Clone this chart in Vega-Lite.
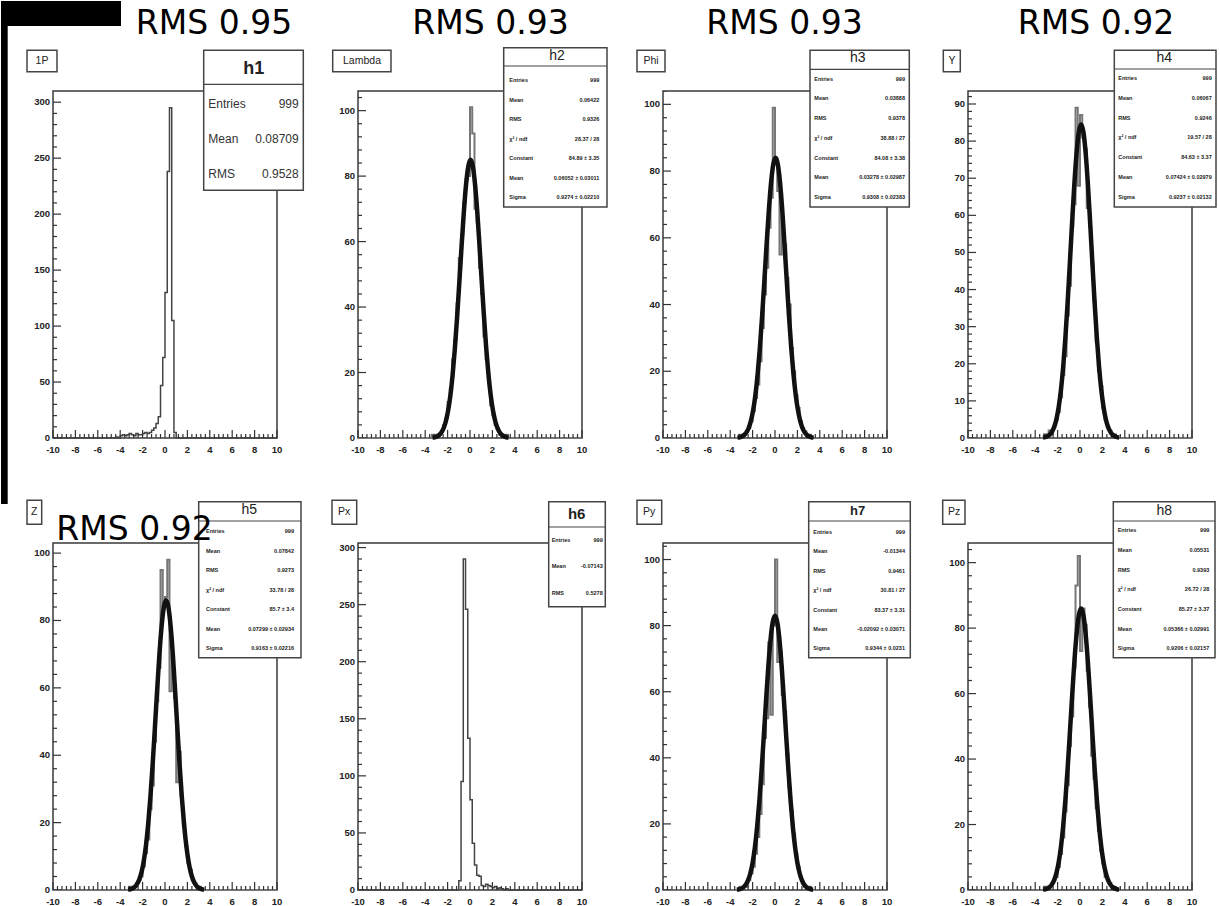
{
"$schema": "https://vega.github.io/schema/vega-lite/v6.json",
"background": "white",
"padding": 0,
"autosize": {"type": "pad"},
"config": {
  "font": "Liberation Sans",
  "view": {"stroke": "#3a3a3a", "strokeWidth": 1.5}
},
"datasets": {
  "xM": [{"v":-10,"l":"-10"},{"v":-8,"l":"-8"},{"v":-6,"l":"-6"},{"v":-4,"l":"-4"},{"v":-2,"l":"-2"},{"v":0,"l":"0"},{"v":2,"l":"2"},{"v":4,"l":"4"},{"v":6,"l":"6"},{"v":8,"l":"8"},{"v":10,"l":"10"}],
  "yM50": [{"v":0,"l":"0"},{"v":50,"l":"50"},{"v":100,"l":"100"},{"v":150,"l":"150"},{"v":200,"l":"200"},{"v":250,"l":"250"},{"v":300,"l":"300"}],
  "yM20": [{"v":0,"l":"0"},{"v":20,"l":"20"},{"v":40,"l":"40"},{"v":60,"l":"60"},{"v":80,"l":"80"},{"v":100,"l":"100"}],
  "yM10": [{"v":0,"l":"0"},{"v":10,"l":"10"},{"v":20,"l":"20"},{"v":30,"l":"30"},{"v":40,"l":"40"},{"v":50,"l":"50"},{"v":60,"l":"60"},{"v":70,"l":"70"},{"v":80,"l":"80"},{"v":90,"l":"90"}],
  "xm": [{"v":-9.6},{"v":-9.2},{"v":-8.8},{"v":-8.4},{"v":-7.6},{"v":-7.2},{"v":-6.8},{"v":-6.4},{"v":-5.6},{"v":-5.2},{"v":-4.8},{"v":-4.4},{"v":-3.6},{"v":-3.2},{"v":-2.8},{"v":-2.4},{"v":-1.6},{"v":-1.2},{"v":-0.8},{"v":-0.4},{"v":0.4},{"v":0.8},{"v":1.2},{"v":1.6},{"v":2.4},{"v":2.8},{"v":3.2},{"v":3.6},{"v":4.4},{"v":4.8},{"v":5.2},{"v":5.6},{"v":6.4},{"v":6.8},{"v":7.2},{"v":7.6},{"v":8.4},{"v":8.8},{"v":9.2},{"v":9.6}],
  "ym10": [{"v":10},{"v":20},{"v":30},{"v":40},{"v":60},{"v":70},{"v":80},{"v":90},{"v":110},{"v":120},{"v":130},{"v":140},{"v":160},{"v":170},{"v":180},{"v":190},{"v":210},{"v":220},{"v":230},{"v":240},{"v":260},{"v":270},{"v":280},{"v":290}],
  "ym4": [{"v":4},{"v":8},{"v":12},{"v":16},{"v":24},{"v":28},{"v":32},{"v":36},{"v":44},{"v":48},{"v":52},{"v":56},{"v":64},{"v":68},{"v":72},{"v":76},{"v":84},{"v":88},{"v":92},{"v":96},{"v":104}],
  "ym2": [{"v":2},{"v":4},{"v":6},{"v":8},{"v":12},{"v":14},{"v":16},{"v":18},{"v":22},{"v":24},{"v":26},{"v":28},{"v":32},{"v":34},{"v":36},{"v":38},{"v":42},{"v":44},{"v":46},{"v":48},{"v":52},{"v":54},{"v":56},{"v":58},{"v":62},{"v":64},{"v":66},{"v":68},{"v":72},{"v":74},{"v":76},{"v":78},{"v":82},{"v":84},{"v":86},{"v":88},{"v":92}],
  "h1": [{"x":-10,"n":0},{"x":-4.4,"n":1},{"x":-4.2,"n":0},{"x":-4,"n":2},{"x":-3.8,"n":3},{"x":-3.6,"n":2},{"x":-3.4,"n":3},{"x":-3.2,"n":4},{"x":-3,"n":3},{"x":-2.8,"n":2},{"x":-2.6,"n":4},{"x":-2.4,"n":3},{"x":-2.2,"n":3},{"x":-2,"n":4},{"x":-1.8,"n":5},{"x":-1.6,"n":4},{"x":-1.4,"n":5},{"x":-1.2,"n":7},{"x":-1,"n":9},{"x":-0.8,"n":13},{"x":-0.6,"n":19},{"x":-0.4,"n":47},{"x":-0.2,"n":72},{"x":0,"n":130},{"x":0.2,"n":238},{"x":0.4,"n":295},{"x":0.6,"n":105},{"x":0.8,"n":5},{"x":1,"n":0},{"x":10,"n":0}],
  "h2": [{"x":-10,"n":0},{"x":-3.4,"n":1},{"x":-3.2,"n":0},{"x":-3,"n":1},{"x":-2.8,"n":1},{"x":-2.6,"n":2},{"x":-2.4,"n":4},{"x":-2.2,"n":6},{"x":-2,"n":11},{"x":-1.8,"n":15},{"x":-1.6,"n":24},{"x":-1.4,"n":30},{"x":-1.2,"n":41},{"x":-1,"n":55},{"x":-0.8,"n":62},{"x":-0.6,"n":72},{"x":-0.4,"n":79},{"x":-0.2,"n":80},{"x":0,"n":101},{"x":0.2,"n":93},{"x":0.4,"n":70},{"x":0.6,"n":66},{"x":0.8,"n":52},{"x":1,"n":44},{"x":1.2,"n":31},{"x":1.4,"n":24},{"x":1.6,"n":17},{"x":1.8,"n":10},{"x":2,"n":7},{"x":2.2,"n":4},{"x":2.4,"n":3},{"x":2.6,"n":1},{"x":2.8,"n":1},{"x":3,"n":0},{"x":3.2,"n":1},{"x":3.4,"n":0},{"x":10,"n":0}],
  "h3": [{"x":-10,"n":0},{"x":-3.2,"n":1},{"x":-3,"n":1},{"x":-2.8,"n":1},{"x":-2.6,"n":2},{"x":-2.4,"n":3},{"x":-2.2,"n":5},{"x":-2,"n":8},{"x":-1.8,"n":12},{"x":-1.6,"n":16},{"x":-1.4,"n":23},{"x":-1.2,"n":33},{"x":-1,"n":43},{"x":-0.8,"n":51},{"x":-0.6,"n":63},{"x":-0.4,"n":72},{"x":-0.2,"n":99},{"x":0,"n":84},{"x":0.2,"n":74},{"x":0.4,"n":55},{"x":0.6,"n":66},{"x":0.8,"n":58},{"x":1,"n":48},{"x":1.2,"n":40},{"x":1.4,"n":27},{"x":1.6,"n":20},{"x":1.8,"n":13},{"x":2,"n":9},{"x":2.2,"n":5},{"x":2.4,"n":3},{"x":2.6,"n":2},{"x":2.8,"n":1},{"x":3,"n":1},{"x":3.2,"n":0},{"x":10,"n":0}],
  "h4": [{"x":-10,"n":0},{"x":-3.2,"n":1},{"x":-3,"n":0},{"x":-2.8,"n":2},{"x":-2.6,"n":1},{"x":-2.4,"n":3},{"x":-2.2,"n":5},{"x":-2,"n":7},{"x":-1.8,"n":11},{"x":-1.6,"n":17},{"x":-1.4,"n":22},{"x":-1.2,"n":33},{"x":-1,"n":41},{"x":-0.8,"n":57},{"x":-0.6,"n":63},{"x":-0.4,"n":89},{"x":-0.2,"n":68},{"x":0,"n":87},{"x":0.2,"n":81},{"x":0.4,"n":78},{"x":0.6,"n":62},{"x":0.8,"n":57},{"x":1,"n":47},{"x":1.2,"n":37},{"x":1.4,"n":26},{"x":1.6,"n":18},{"x":1.8,"n":14},{"x":2,"n":8},{"x":2.2,"n":5},{"x":2.4,"n":3},{"x":2.6,"n":2},{"x":2.8,"n":1},{"x":3,"n":1},{"x":3.2,"n":0},{"x":10,"n":0}],
  "h5": [{"x":-10,"n":0},{"x":-3.2,"n":1},{"x":-3,"n":1},{"x":-2.8,"n":1},{"x":-2.6,"n":2},{"x":-2.4,"n":3},{"x":-2.2,"n":4},{"x":-2,"n":7},{"x":-1.8,"n":11},{"x":-1.6,"n":15},{"x":-1.4,"n":24},{"x":-1.2,"n":31},{"x":-1,"n":44},{"x":-0.8,"n":56},{"x":-0.6,"n":66},{"x":-0.4,"n":95},{"x":-0.2,"n":84},{"x":0,"n":87},{"x":0.2,"n":98},{"x":0.4,"n":59},{"x":0.6,"n":70},{"x":0.8,"n":57},{"x":1,"n":32},{"x":1.2,"n":41},{"x":1.4,"n":28},{"x":1.6,"n":19},{"x":1.8,"n":13},{"x":2,"n":8},{"x":2.2,"n":6},{"x":2.4,"n":3},{"x":2.6,"n":2},{"x":2.8,"n":1},{"x":3,"n":1},{"x":3.2,"n":0},{"x":10,"n":0}],
  "h6": [{"x":-10,"n":0},{"x":-1,"n":8},{"x":-0.8,"n":95},{"x":-0.6,"n":290},{"x":-0.4,"n":246},{"x":-0.2,"n":133},{"x":0,"n":79},{"x":0.2,"n":41},{"x":0.4,"n":22},{"x":0.6,"n":13},{"x":0.8,"n":12},{"x":1,"n":4},{"x":1.2,"n":3},{"x":1.4,"n":5},{"x":1.6,"n":4},{"x":1.8,"n":3},{"x":2,"n":2},{"x":2.2,"n":3},{"x":2.4,"n":1},{"x":2.6,"n":2},{"x":2.8,"n":1},{"x":3,"n":0},{"x":3.2,"n":1},{"x":3.4,"n":0},{"x":10,"n":0}],
  "h7": [{"x":-10,"n":0},{"x":-3,"n":1},{"x":-2.8,"n":1},{"x":-2.6,"n":1},{"x":-2.4,"n":3},{"x":-2.2,"n":5},{"x":-2,"n":7},{"x":-1.8,"n":11},{"x":-1.6,"n":16},{"x":-1.4,"n":23},{"x":-1.2,"n":32},{"x":-1,"n":46},{"x":-0.8,"n":52},{"x":-0.6,"n":75},{"x":-0.4,"n":53},{"x":-0.2,"n":80},{"x":0,"n":100},{"x":0.2,"n":69},{"x":0.4,"n":72},{"x":0.6,"n":59},{"x":0.8,"n":54},{"x":1,"n":41},{"x":1.2,"n":31},{"x":1.4,"n":24},{"x":1.6,"n":17},{"x":1.8,"n":11},{"x":2,"n":7},{"x":2.2,"n":4},{"x":2.4,"n":2},{"x":2.6,"n":1},{"x":2.8,"n":1},{"x":3,"n":1},{"x":3.2,"n":0},{"x":10,"n":0}],
  "h8": [{"x":-10,"n":0},{"x":-3.2,"n":1},{"x":-3,"n":1},{"x":-2.8,"n":1},{"x":-2.6,"n":2},{"x":-2.4,"n":3},{"x":-2.2,"n":4},{"x":-2,"n":7},{"x":-1.8,"n":11},{"x":-1.6,"n":16},{"x":-1.4,"n":24},{"x":-1.2,"n":32},{"x":-1,"n":44},{"x":-0.8,"n":53},{"x":-0.6,"n":68},{"x":-0.4,"n":93},{"x":-0.2,"n":102},{"x":0,"n":73},{"x":0.2,"n":86},{"x":0.4,"n":81},{"x":0.6,"n":67},{"x":0.8,"n":56},{"x":1,"n":41},{"x":1.2,"n":34},{"x":1.4,"n":25},{"x":1.6,"n":18},{"x":1.8,"n":12},{"x":2,"n":8},{"x":2.2,"n":4},{"x":2.4,"n":3},{"x":2.6,"n":2},{"x":2.8,"n":1},{"x":3,"n":1},{"x":3.2,"n":0},{"x":10,"n":0}],
  "f2": [{"x":-3.35,"y":0.11},{"x":-3.15,"y":0.23},{"x":-2.95,"y":0.47},{"x":-2.75,"y":0.91},{"x":-2.55,"y":1.71},{"x":-2.35,"y":3.04},{"x":-2.15,"y":5.18},{"x":-1.95,"y":8.42},{"x":-1.75,"y":13.06},{"x":-1.55,"y":19.35},{"x":-1.35,"y":27.37},{"x":-1.15,"y":36.97},{"x":-0.95,"y":47.68},{"x":-0.75,"y":58.71},{"x":-0.55,"y":69.03},{"x":-0.35,"y":77.49},{"x":-0.15,"y":83.06},{"x":0.05,"y":85},{"x":0.25,"y":83.06},{"x":0.45,"y":77.49},{"x":0.65,"y":69.03},{"x":0.85,"y":58.71},{"x":1.05,"y":47.68},{"x":1.25,"y":36.97},{"x":1.45,"y":27.37},{"x":1.65,"y":19.35},{"x":1.85,"y":13.06},{"x":2.05,"y":8.42},{"x":2.25,"y":5.18},{"x":2.45,"y":3.04},{"x":2.65,"y":1.71},{"x":2.85,"y":0.91},{"x":3.05,"y":0.47},{"x":3.25,"y":0.23},{"x":3.45,"y":0.11}],
  "f3": [{"x":-3.35,"y":0.11},{"x":-3.15,"y":0.23},{"x":-2.95,"y":0.46},{"x":-2.75,"y":0.9},{"x":-2.55,"y":1.69},{"x":-2.35,"y":3.01},{"x":-2.15,"y":5.12},{"x":-1.95,"y":8.32},{"x":-1.75,"y":12.91},{"x":-1.55,"y":19.12},{"x":-1.35,"y":27.05},{"x":-1.15,"y":36.54},{"x":-0.95,"y":47.12},{"x":-0.75,"y":58.02},{"x":-0.55,"y":68.22},{"x":-0.35,"y":76.58},{"x":-0.15,"y":82.08},{"x":0.05,"y":84},{"x":0.25,"y":82.08},{"x":0.45,"y":76.58},{"x":0.65,"y":68.22},{"x":0.85,"y":58.02},{"x":1.05,"y":47.12},{"x":1.25,"y":36.54},{"x":1.45,"y":27.05},{"x":1.65,"y":19.12},{"x":1.85,"y":12.91},{"x":2.05,"y":8.32},{"x":2.25,"y":5.12},{"x":2.45,"y":3.01},{"x":2.65,"y":1.69},{"x":2.85,"y":0.9},{"x":3.05,"y":0.46},{"x":3.25,"y":0.23},{"x":3.45,"y":0.11}],
  "f4": [{"x":-3.3,"y":0.11},{"x":-3.1,"y":0.23},{"x":-2.9,"y":0.46},{"x":-2.7,"y":0.91},{"x":-2.5,"y":1.7},{"x":-2.3,"y":3.03},{"x":-2.1,"y":5.15},{"x":-1.9,"y":8.37},{"x":-1.7,"y":12.99},{"x":-1.5,"y":19.24},{"x":-1.3,"y":27.21},{"x":-1.1,"y":36.76},{"x":-0.9,"y":47.4},{"x":-0.7,"y":58.37},{"x":-0.5,"y":68.62},{"x":-0.3,"y":77.03},{"x":-0.1,"y":82.57},{"x":0.1,"y":84.5},{"x":0.3,"y":82.57},{"x":0.5,"y":77.03},{"x":0.7,"y":68.62},{"x":0.9,"y":58.37},{"x":1.1,"y":47.4},{"x":1.3,"y":36.76},{"x":1.5,"y":27.21},{"x":1.7,"y":19.24},{"x":1.9,"y":12.99},{"x":2.1,"y":8.37},{"x":2.3,"y":5.15},{"x":2.5,"y":3.03},{"x":2.7,"y":1.7},{"x":2.9,"y":0.91},{"x":3.1,"y":0.46},{"x":3.3,"y":0.23},{"x":3.5,"y":0.11}],
  "f5": [{"x":-3.3,"y":0.11},{"x":-3.1,"y":0.23},{"x":-2.9,"y":0.47},{"x":-2.7,"y":0.92},{"x":-2.5,"y":1.73},{"x":-2.3,"y":3.08},{"x":-2.1,"y":5.24},{"x":-1.9,"y":8.52},{"x":-1.7,"y":13.22},{"x":-1.5,"y":19.58},{"x":-1.3,"y":27.7},{"x":-1.1,"y":37.41},{"x":-0.9,"y":48.24},{"x":-0.7,"y":59.4},{"x":-0.5,"y":69.84},{"x":-0.3,"y":78.4},{"x":-0.1,"y":84.03},{"x":0.1,"y":86},{"x":0.3,"y":84.03},{"x":0.5,"y":78.4},{"x":0.7,"y":69.84},{"x":0.9,"y":59.4},{"x":1.1,"y":48.24},{"x":1.3,"y":37.41},{"x":1.5,"y":27.7},{"x":1.7,"y":19.58},{"x":1.9,"y":13.22},{"x":2.1,"y":8.52},{"x":2.3,"y":5.24},{"x":2.5,"y":3.08},{"x":2.7,"y":1.73},{"x":2.9,"y":0.92},{"x":3.1,"y":0.47},{"x":3.3,"y":0.23},{"x":3.5,"y":0.11}],
  "f7": [{"x":-3.4,"y":0.1},{"x":-3.2,"y":0.22},{"x":-3,"y":0.46},{"x":-2.8,"y":0.89},{"x":-2.6,"y":1.67},{"x":-2.4,"y":2.97},{"x":-2.2,"y":5.06},{"x":-2,"y":8.22},{"x":-1.8,"y":12.76},{"x":-1.6,"y":18.89},{"x":-1.4,"y":26.73},{"x":-1.2,"y":36.1},{"x":-1,"y":46.56},{"x":-0.8,"y":57.33},{"x":-0.6,"y":67.41},{"x":-0.4,"y":75.67},{"x":-0.2,"y":81.1},{"x":0,"y":83},{"x":0.2,"y":81.1},{"x":0.4,"y":75.67},{"x":0.6,"y":67.41},{"x":0.8,"y":57.33},{"x":1,"y":46.56},{"x":1.2,"y":36.1},{"x":1.4,"y":26.73},{"x":1.6,"y":18.89},{"x":1.8,"y":12.76},{"x":2,"y":8.22},{"x":2.2,"y":5.06},{"x":2.4,"y":2.97},{"x":2.6,"y":1.67},{"x":2.8,"y":0.89},{"x":3,"y":0.46},{"x":3.2,"y":0.22},{"x":3.4,"y":0.1}]
},
"columns": 4,
"spacing": {"row": 105, "column": 81},
"bounds": "flush",
"concat": [
 {"width": 224, "height": 347, "layer": [
  {"data": {"name": "h1"}, "mark": {"type": "line", "interpolate": "step-after", "color": "#444", "strokeWidth": 1.5},
   "encoding": {"x": {"field": "x", "type": "quantitative", "scale": {"domain": [-10, 10], "nice": false, "zero": false}, "axis": null},
                "y": {"field": "n", "type": "quantitative", "scale": {"domain": [0, 310], "nice": false}, "axis": null}}},
  {"data": {"name": "xM"}, "mark": {"type": "rule", "y2Offset": -8, "color": "#333", "strokeWidth": 1.2},
   "encoding": {"x": {"field": "v", "type": "quantitative", "scale": {"domain": [-10, 10], "nice": false, "zero": false}, "axis": null}, "y": {"datum": 0, "type": "quantitative", "scale": {"domain": [0, 310], "nice": false}, "axis": null}, "y2": {"datum": 0}}},
  {"data": {"name": "xM"}, "mark": {"type": "text", "fontSize": 9.5, "fontWeight": "bold", "color": "#222", "baseline": "top", "dy": 7},
   "encoding": {"x": {"field": "v", "type": "quantitative", "scale": {"domain": [-10, 10], "nice": false, "zero": false}, "axis": null}, "y": {"datum": 0, "type": "quantitative", "scale": {"domain": [0, 310], "nice": false}, "axis": null}, "text": {"field": "l"}}},
  {"data": {"name": "xm"}, "mark": {"type": "rule", "y2Offset": -4, "color": "#333", "strokeWidth": 1.2},
   "encoding": {"x": {"field": "v", "type": "quantitative", "scale": {"domain": [-10, 10], "nice": false, "zero": false}, "axis": null}, "y": {"datum": 0, "type": "quantitative", "scale": {"domain": [0, 310], "nice": false}, "axis": null}, "y2": {"datum": 0}}},
  {"data": {"name": "yM50"}, "mark": {"type": "rule", "x2Offset": 8, "color": "#333", "strokeWidth": 1.2, "clip": true},
   "encoding": {"y": {"field": "v", "type": "quantitative", "scale": {"domain": [0, 310], "nice": false}, "axis": null}, "x": {"datum": -10, "type": "quantitative", "scale": {"domain": [-10, 10], "nice": false, "zero": false}, "axis": null}, "x2": {"datum": -10}}},
  {"data": {"name": "yM50"}, "mark": {"type": "text", "fontSize": 9.5, "fontWeight": "bold", "color": "#222", "align": "right", "baseline": "middle", "dx": -3},
   "encoding": {"y": {"field": "v", "type": "quantitative", "scale": {"domain": [0, 310], "nice": false}, "axis": null}, "x": {"datum": -10, "type": "quantitative", "scale": {"domain": [-10, 10], "nice": false, "zero": false}, "axis": null}, "text": {"field": "l"}}},
  {"data": {"name": "ym10"}, "mark": {"type": "rule", "x2Offset": 4, "color": "#333", "strokeWidth": 1.2, "clip": true},
   "encoding": {"y": {"field": "v", "type": "quantitative", "scale": {"domain": [0, 310], "nice": false}, "axis": null}, "x": {"datum": -10, "type": "quantitative", "scale": {"domain": [-10, 10], "nice": false, "zero": false}, "axis": null}, "x2": {"datum": -10}}},
  {"data": {"values": [{}]}, "mark": {"type": "rect", "fill": "black"},
   "encoding": {"x": {"datum": -14.643, "type": "quantitative", "scale": {"domain": [-10, 10], "nice": false, "zero": false}, "axis": null}, "x2": {"datum": -3.929}, "y": {"datum": 390.4, "type": "quantitative", "scale": {"domain": [0, 310], "nice": false}, "axis": null}, "y2": {"datum": 368.1}}},
  {"data": {"values": [{}]}, "mark": {"type": "rect", "fill": "black"},
   "encoding": {"x": {"datum": -14.643, "type": "quantitative", "scale": {"domain": [-10, 10], "nice": false, "zero": false}, "axis": null}, "x2": {"datum": -14.045}, "y": {"datum": 390.4, "type": "quantitative", "scale": {"domain": [0, 310], "nice": false}, "axis": null}, "y2": {"datum": -58.96}}},
  {"data": {"values": [{}]}, "mark": {"type": "rect", "fill": "white", "stroke": "#444", "strokeWidth": 1.5},
   "encoding": {"x": {"datum": -12.321, "type": "quantitative", "scale": {"domain": [-10, 10], "nice": false, "zero": false}, "axis": null}, "x2": {"datum": -9.643}, "y": {"datum": 346.4, "type": "quantitative", "scale": {"domain": [0, 310], "nice": false}, "axis": null}, "y2": {"datum": 327.3}}},
  {"data": {"values": [{"t": "1P"}]}, "mark": {"type": "text", "fontSize": 10.5, "color": "#222", "baseline": "middle"},
   "encoding": {"x": {"datum": -10.982, "type": "quantitative", "scale": {"domain": [-10, 10], "nice": false, "zero": false}, "axis": null}, "y": {"datum": 336.8, "type": "quantitative", "scale": {"domain": [0, 310], "nice": false}, "axis": null}, "text": {"field": "t"}}},
  {"data": {"values": [{}]}, "mark": {"type": "rect", "fill": "white", "stroke": "#444", "strokeWidth": 1.5},
   "encoding": {"x": {"datum": 3.455, "type": "quantitative", "scale": {"domain": [-10, 10], "nice": false, "zero": false}, "axis": null}, "x2": {"datum": 12.348}, "y": {"datum": 346.4, "type": "quantitative", "scale": {"domain": [0, 310], "nice": false}, "axis": null}, "y2": {"datum": 221.3}}},
  {"data": {"values": [{}]}, "mark": {"type": "rule", "color": "#444", "strokeWidth": 1.2},
   "encoding": {"x": {"datum": 3.455, "type": "quantitative", "scale": {"domain": [-10, 10], "nice": false, "zero": false}, "axis": null}, "x2": {"datum": 12.348}, "y": {"datum": 316.0, "type": "quantitative", "scale": {"domain": [0, 310], "nice": false}, "axis": null}}},
  {"data": {"values": [{"t": "h1"}]}, "mark": {"type": "text", "fontSize": 18, "fontWeight": "bold", "color": "#222", "baseline": "middle"},
   "encoding": {"x": {"datum": 7.92, "type": "quantitative", "scale": {"domain": [-10, 10], "nice": false, "zero": false}, "axis": null}, "y": {"datum": 329.4, "type": "quantitative", "scale": {"domain": [0, 310], "nice": false}, "axis": null}, "text": {"field": "t"}}},
  {"data": {"values": [{"t": "Entries\nMean\nRMS"}]}, "mark": {"type": "text", "fontSize": 12, "color": "#333", "align": "left", "baseline": "alphabetic", "lineBreak": "\n", "lineHeight": 35},
   "encoding": {"x": {"datum": 3.866, "type": "quantitative", "scale": {"domain": [-10, 10], "nice": false, "zero": false}, "axis": null}, "y": {"datum": 294.9, "type": "quantitative", "scale": {"domain": [0, 310], "nice": false}, "axis": null}, "text": {"field": "t"}}},
  {"data": {"values": [{"t": "999\n0.08709\n0.9528"}]}, "mark": {"type": "text", "fontSize": 12, "color": "#333", "align": "right", "baseline": "alphabetic", "lineBreak": "\n", "lineHeight": 35},
   "encoding": {"x": {"datum": 11.938, "type": "quantitative", "scale": {"domain": [-10, 10], "nice": false, "zero": false}, "axis": null}, "y": {"datum": 294.9, "type": "quantitative", "scale": {"domain": [0, 310], "nice": false}, "axis": null}, "text": {"field": "t"}}},
  {"data": {"values": [{"t": "RMS 0.95"}]}, "mark": {"type": "text", "font": "DejaVu Sans", "fontSize": 33, "color": "black", "align": "center", "baseline": "alphabetic"},
   "encoding": {"x": {"datum": 4.375, "type": "quantitative", "scale": {"domain": [-10, 10], "nice": false, "zero": false}, "axis": null}, "y": {"datum": 360.7, "type": "quantitative", "scale": {"domain": [0, 310], "nice": false}, "axis": null}, "text": {"field": "t"}}}
 ]},
 {"width": 224, "height": 347, "layer": [
  {"data": {"name": "h2"}, "mark": {"type": "line", "interpolate": "step-after", "color": "#777", "strokeWidth": 2},
   "encoding": {"x": {"field": "x", "type": "quantitative", "scale": {"domain": [-10, 10], "nice": false, "zero": false}, "axis": null},
                "y": {"field": "n", "type": "quantitative", "scale": {"domain": [0, 106], "nice": false}, "axis": null}}},
  {"data": {"name": "xM"}, "mark": {"type": "rule", "y2Offset": -8, "color": "#333", "strokeWidth": 1.2},
   "encoding": {"x": {"field": "v", "type": "quantitative", "scale": {"domain": [-10, 10], "nice": false, "zero": false}, "axis": null}, "y": {"datum": 0, "type": "quantitative", "scale": {"domain": [0, 106], "nice": false}, "axis": null}, "y2": {"datum": 0}}},
  {"data": {"name": "xM"}, "mark": {"type": "text", "fontSize": 9.5, "fontWeight": "bold", "color": "#222", "baseline": "top", "dy": 7},
   "encoding": {"x": {"field": "v", "type": "quantitative", "scale": {"domain": [-10, 10], "nice": false, "zero": false}, "axis": null}, "y": {"datum": 0, "type": "quantitative", "scale": {"domain": [0, 106], "nice": false}, "axis": null}, "text": {"field": "l"}}},
  {"data": {"name": "xm"}, "mark": {"type": "rule", "y2Offset": -4, "color": "#333", "strokeWidth": 1.2},
   "encoding": {"x": {"field": "v", "type": "quantitative", "scale": {"domain": [-10, 10], "nice": false, "zero": false}, "axis": null}, "y": {"datum": 0, "type": "quantitative", "scale": {"domain": [0, 106], "nice": false}, "axis": null}, "y2": {"datum": 0}}},
  {"data": {"name": "yM20"}, "mark": {"type": "rule", "x2Offset": 8, "color": "#333", "strokeWidth": 1.2, "clip": true},
   "encoding": {"y": {"field": "v", "type": "quantitative", "scale": {"domain": [0, 106], "nice": false}, "axis": null}, "x": {"datum": -10, "type": "quantitative", "scale": {"domain": [-10, 10], "nice": false, "zero": false}, "axis": null}, "x2": {"datum": -10}}},
  {"data": {"name": "yM20"}, "mark": {"type": "text", "fontSize": 9.5, "fontWeight": "bold", "color": "#222", "align": "right", "baseline": "middle", "dx": -3},
   "encoding": {"y": {"field": "v", "type": "quantitative", "scale": {"domain": [0, 106], "nice": false}, "axis": null}, "x": {"datum": -10, "type": "quantitative", "scale": {"domain": [-10, 10], "nice": false, "zero": false}, "axis": null}, "text": {"field": "l"}}},
  {"data": {"name": "ym4"}, "mark": {"type": "rule", "x2Offset": 4, "color": "#333", "strokeWidth": 1.2, "clip": true},
   "encoding": {"y": {"field": "v", "type": "quantitative", "scale": {"domain": [0, 106], "nice": false}, "axis": null}, "x": {"datum": -10, "type": "quantitative", "scale": {"domain": [-10, 10], "nice": false, "zero": false}, "axis": null}, "x2": {"datum": -10}}},
  {"data": {"name": "f2"}, "mark": {"type": "line", "interpolate": "monotone", "color": "#111", "strokeWidth": 4.5},
   "encoding": {"x": {"field": "x", "type": "quantitative", "scale": {"domain": [-10, 10], "nice": false, "zero": false}, "axis": null}, "y": {"field": "y", "type": "quantitative", "scale": {"domain": [0, 106], "nice": false}, "axis": null}}},
  {"data": {"values": [{}]}, "mark": {"type": "rect", "fill": "white", "stroke": "#444", "strokeWidth": 1.5},
   "encoding": {"x": {"datum": -12.259, "type": "quantitative", "scale": {"domain": [-10, 10], "nice": false, "zero": false}, "axis": null}, "x2": {"datum": -7.054}, "y": {"datum": 118.43, "type": "quantitative", "scale": {"domain": [0, 106], "nice": false}, "axis": null}, "y2": {"datum": 111.9}}},
  {"data": {"values": [{"t": "Lambda"}]}, "mark": {"type": "text", "fontSize": 10.5, "color": "#222", "baseline": "middle"},
   "encoding": {"x": {"datum": -9.643, "type": "quantitative", "scale": {"domain": [-10, 10], "nice": false, "zero": false}, "axis": null}, "y": {"datum": 115.17, "type": "quantitative", "scale": {"domain": [0, 106], "nice": false}, "axis": null}, "text": {"field": "t"}}},
  {"data": {"values": [{}]}, "mark": {"type": "rect", "fill": "white", "stroke": "#444", "strokeWidth": 1.5},
   "encoding": {"x": {"datum": 3.009, "type": "quantitative", "scale": {"domain": [-10, 10], "nice": false, "zero": false}, "axis": null}, "x2": {"datum": 12.232}, "y": {"datum": 119.23, "type": "quantitative", "scale": {"domain": [0, 106], "nice": false}, "axis": null}, "y2": {"datum": 70.57}}},
  {"data": {"values": [{}]}, "mark": {"type": "rule", "color": "#444", "strokeWidth": 1.2},
   "encoding": {"x": {"datum": 3.009, "type": "quantitative", "scale": {"domain": [-10, 10], "nice": false, "zero": false}, "axis": null}, "x2": {"datum": 12.232}, "y": {"datum": 113.64, "type": "quantitative", "scale": {"domain": [0, 106], "nice": false}, "axis": null}}},
  {"data": {"values": [{"t": "h2"}]}, "mark": {"type": "text", "fontSize": 14, "color": "#222", "baseline": "middle"},
   "encoding": {"x": {"datum": 7.768, "type": "quantitative", "scale": {"domain": [-10, 10], "nice": false, "zero": false}, "axis": null}, "y": {"datum": 116.69, "type": "quantitative", "scale": {"domain": [0, 106], "nice": false}, "axis": null}, "text": {"field": "t"}}},
  {"data": {"values": [{"t": "Entries\nMean\nRMS\nχ² / ndf\nConstant\nMean\nSigma"}]}, "mark": {"type": "text", "fontSize": 5.5, "fontWeight": "bold", "color": "#222", "align": "left", "baseline": "alphabetic", "lineBreak": "\n", "lineHeight": 19.45},
   "encoding": {"x": {"datum": 3.509, "type": "quantitative", "scale": {"domain": [-10, 10], "nice": false, "zero": false}, "axis": null}, "y": {"datum": 108.66, "type": "quantitative", "scale": {"domain": [0, 106], "nice": false}, "axis": null}, "text": {"field": "t"}}},
  {"data": {"values": [{"t": "999\n0.06422\n0.9326\n28.37 / 28\n84.89 ± 3.35\n0.06052 ± 0.03011\n0.9274 ± 0.02210"}]}, "mark": {"type": "text", "fontSize": 5.5, "fontWeight": "bold", "color": "#222", "align": "right", "baseline": "alphabetic", "lineBreak": "\n", "lineHeight": 19.45},
   "encoding": {"x": {"datum": 11.545, "type": "quantitative", "scale": {"domain": [-10, 10], "nice": false, "zero": false}, "axis": null}, "y": {"datum": 108.66, "type": "quantitative", "scale": {"domain": [0, 106], "nice": false}, "axis": null}, "text": {"field": "t"}}},
  {"data": {"values": [{"t": "RMS 0.93"}]}, "mark": {"type": "text", "font": "DejaVu Sans", "fontSize": 33, "color": "black", "align": "center", "baseline": "alphabetic"},
   "encoding": {"x": {"datum": 1.83, "type": "quantitative", "scale": {"domain": [-10, 10], "nice": false, "zero": false}, "axis": null}, "y": {"datum": 123.32, "type": "quantitative", "scale": {"domain": [0, 106], "nice": false}, "axis": null}, "text": {"field": "t"}}}
 ]},
 {"width": 224, "height": 347, "layer": [
  {"data": {"name": "h3"}, "mark": {"type": "line", "interpolate": "step-after", "color": "#777", "strokeWidth": 2},
   "encoding": {"x": {"field": "x", "type": "quantitative", "scale": {"domain": [-10, 10], "nice": false, "zero": false}, "axis": null},
                "y": {"field": "n", "type": "quantitative", "scale": {"domain": [0, 104], "nice": false}, "axis": null}}},
  {"data": {"name": "xM"}, "mark": {"type": "rule", "y2Offset": -8, "color": "#333", "strokeWidth": 1.2},
   "encoding": {"x": {"field": "v", "type": "quantitative", "scale": {"domain": [-10, 10], "nice": false, "zero": false}, "axis": null}, "y": {"datum": 0, "type": "quantitative", "scale": {"domain": [0, 104], "nice": false}, "axis": null}, "y2": {"datum": 0}}},
  {"data": {"name": "xM"}, "mark": {"type": "text", "fontSize": 9.5, "fontWeight": "bold", "color": "#222", "baseline": "top", "dy": 7},
   "encoding": {"x": {"field": "v", "type": "quantitative", "scale": {"domain": [-10, 10], "nice": false, "zero": false}, "axis": null}, "y": {"datum": 0, "type": "quantitative", "scale": {"domain": [0, 104], "nice": false}, "axis": null}, "text": {"field": "l"}}},
  {"data": {"name": "xm"}, "mark": {"type": "rule", "y2Offset": -4, "color": "#333", "strokeWidth": 1.2},
   "encoding": {"x": {"field": "v", "type": "quantitative", "scale": {"domain": [-10, 10], "nice": false, "zero": false}, "axis": null}, "y": {"datum": 0, "type": "quantitative", "scale": {"domain": [0, 104], "nice": false}, "axis": null}, "y2": {"datum": 0}}},
  {"data": {"name": "yM20"}, "mark": {"type": "rule", "x2Offset": 8, "color": "#333", "strokeWidth": 1.2, "clip": true},
   "encoding": {"y": {"field": "v", "type": "quantitative", "scale": {"domain": [0, 104], "nice": false}, "axis": null}, "x": {"datum": -10, "type": "quantitative", "scale": {"domain": [-10, 10], "nice": false, "zero": false}, "axis": null}, "x2": {"datum": -10}}},
  {"data": {"name": "yM20"}, "mark": {"type": "text", "fontSize": 9.5, "fontWeight": "bold", "color": "#222", "align": "right", "baseline": "middle", "dx": -3},
   "encoding": {"y": {"field": "v", "type": "quantitative", "scale": {"domain": [0, 104], "nice": false}, "axis": null}, "x": {"datum": -10, "type": "quantitative", "scale": {"domain": [-10, 10], "nice": false, "zero": false}, "axis": null}, "text": {"field": "l"}}},
  {"data": {"name": "ym4"}, "mark": {"type": "rule", "x2Offset": 4, "color": "#333", "strokeWidth": 1.2, "clip": true},
   "encoding": {"y": {"field": "v", "type": "quantitative", "scale": {"domain": [0, 104], "nice": false}, "axis": null}, "x": {"datum": -10, "type": "quantitative", "scale": {"domain": [-10, 10], "nice": false, "zero": false}, "axis": null}, "x2": {"datum": -10}}},
  {"data": {"name": "f3"}, "mark": {"type": "line", "interpolate": "monotone", "color": "#111", "strokeWidth": 4.5},
   "encoding": {"x": {"field": "x", "type": "quantitative", "scale": {"domain": [-10, 10], "nice": false, "zero": false}, "axis": null}, "y": {"field": "y", "type": "quantitative", "scale": {"domain": [0, 104], "nice": false}, "axis": null}}},
  {"data": {"values": [{}]}, "mark": {"type": "rect", "fill": "white", "stroke": "#444", "strokeWidth": 1.5},
   "encoding": {"x": {"datum": -12.321, "type": "quantitative", "scale": {"domain": [-10, 10], "nice": false, "zero": false}, "axis": null}, "x2": {"datum": -9.821}, "y": {"datum": 116.2, "type": "quantitative", "scale": {"domain": [0, 104], "nice": false}, "axis": null}, "y2": {"datum": 109.79}}},
  {"data": {"values": [{"t": "Phi"}]}, "mark": {"type": "text", "fontSize": 10.5, "color": "#222", "baseline": "middle"},
   "encoding": {"x": {"datum": -11.071, "type": "quantitative", "scale": {"domain": [-10, 10], "nice": false, "zero": false}, "axis": null}, "y": {"datum": 112.99, "type": "quantitative", "scale": {"domain": [0, 104], "nice": false}, "axis": null}, "text": {"field": "t"}}},
  {"data": {"values": [{}]}, "mark": {"type": "rect", "fill": "white", "stroke": "#444", "strokeWidth": 1.5},
   "encoding": {"x": {"datum": 3.125, "type": "quantitative", "scale": {"domain": [-10, 10], "nice": false, "zero": false}, "axis": null}, "x2": {"datum": 11.991}, "y": {"datum": 116.2, "type": "quantitative", "scale": {"domain": [0, 104], "nice": false}, "axis": null}, "y2": {"datum": 69.23}}},
  {"data": {"values": [{}]}, "mark": {"type": "rule", "color": "#444", "strokeWidth": 1.2},
   "encoding": {"x": {"datum": 3.125, "type": "quantitative", "scale": {"domain": [-10, 10], "nice": false, "zero": false}, "axis": null}, "x2": {"datum": 11.991}, "y": {"datum": 110.5, "type": "quantitative", "scale": {"domain": [0, 104], "nice": false}, "axis": null}}},
  {"data": {"values": [{"t": "h3"}]}, "mark": {"type": "text", "fontSize": 14, "color": "#222", "baseline": "middle"},
   "encoding": {"x": {"datum": 7.384, "type": "quantitative", "scale": {"domain": [-10, 10], "nice": false, "zero": false}, "axis": null}, "y": {"datum": 113.8, "type": "quantitative", "scale": {"domain": [0, 104], "nice": false}, "axis": null}, "text": {"field": "t"}}},
  {"data": {"values": [{"t": "Entries\nMean\nRMS\nχ² / ndf\nConstant\nMean\nSigma"}]}, "mark": {"type": "text", "fontSize": 5.5, "fontWeight": "bold", "color": "#222", "align": "left", "baseline": "alphabetic", "lineBreak": "\n", "lineHeight": 19.72},
   "encoding": {"x": {"datum": 3.509, "type": "quantitative", "scale": {"domain": [-10, 10], "nice": false, "zero": false}, "axis": null}, "y": {"datum": 107.09, "type": "quantitative", "scale": {"domain": [0, 104], "nice": false}, "axis": null}, "text": {"field": "t"}}},
  {"data": {"values": [{"t": "999\n0.03888\n0.9378\n38.88 / 27\n84.08 ± 3.38\n0.03278 ± 0.02987\n0.9308 ± 0.02383"}]}, "mark": {"type": "text", "fontSize": 5.5, "fontWeight": "bold", "color": "#222", "align": "right", "baseline": "alphabetic", "lineBreak": "\n", "lineHeight": 19.72},
   "encoding": {"x": {"datum": 11.607, "type": "quantitative", "scale": {"domain": [-10, 10], "nice": false, "zero": false}, "axis": null}, "y": {"datum": 107.09, "type": "quantitative", "scale": {"domain": [0, 104], "nice": false}, "axis": null}, "text": {"field": "t"}}},
  {"data": {"values": [{"t": "RMS 0.93"}]}, "mark": {"type": "text", "font": "DejaVu Sans", "fontSize": 33, "color": "black", "align": "center", "baseline": "alphabetic"},
   "encoding": {"x": {"datum": 0.848, "type": "quantitative", "scale": {"domain": [-10, 10], "nice": false, "zero": false}, "axis": null}, "y": {"datum": 121.0, "type": "quantitative", "scale": {"domain": [0, 104], "nice": false}, "axis": null}, "text": {"field": "t"}}}
 ]},
 {"width": 224, "height": 347, "layer": [
  {"data": {"name": "h4"}, "mark": {"type": "line", "interpolate": "step-after", "color": "#777", "strokeWidth": 2},
   "encoding": {"x": {"field": "x", "type": "quantitative", "scale": {"domain": [-10, 10], "nice": false, "zero": false}, "axis": null},
                "y": {"field": "n", "type": "quantitative", "scale": {"domain": [0, 93.5], "nice": false}, "axis": null}}},
  {"data": {"name": "xM"}, "mark": {"type": "rule", "y2Offset": -8, "color": "#333", "strokeWidth": 1.2},
   "encoding": {"x": {"field": "v", "type": "quantitative", "scale": {"domain": [-10, 10], "nice": false, "zero": false}, "axis": null}, "y": {"datum": 0, "type": "quantitative", "scale": {"domain": [0, 93.5], "nice": false}, "axis": null}, "y2": {"datum": 0}}},
  {"data": {"name": "xM"}, "mark": {"type": "text", "fontSize": 9.5, "fontWeight": "bold", "color": "#222", "baseline": "top", "dy": 7},
   "encoding": {"x": {"field": "v", "type": "quantitative", "scale": {"domain": [-10, 10], "nice": false, "zero": false}, "axis": null}, "y": {"datum": 0, "type": "quantitative", "scale": {"domain": [0, 93.5], "nice": false}, "axis": null}, "text": {"field": "l"}}},
  {"data": {"name": "xm"}, "mark": {"type": "rule", "y2Offset": -4, "color": "#333", "strokeWidth": 1.2},
   "encoding": {"x": {"field": "v", "type": "quantitative", "scale": {"domain": [-10, 10], "nice": false, "zero": false}, "axis": null}, "y": {"datum": 0, "type": "quantitative", "scale": {"domain": [0, 93.5], "nice": false}, "axis": null}, "y2": {"datum": 0}}},
  {"data": {"name": "yM10"}, "mark": {"type": "rule", "x2Offset": 8, "color": "#333", "strokeWidth": 1.2, "clip": true},
   "encoding": {"y": {"field": "v", "type": "quantitative", "scale": {"domain": [0, 93.5], "nice": false}, "axis": null}, "x": {"datum": -10, "type": "quantitative", "scale": {"domain": [-10, 10], "nice": false, "zero": false}, "axis": null}, "x2": {"datum": -10}}},
  {"data": {"name": "yM10"}, "mark": {"type": "text", "fontSize": 9.5, "fontWeight": "bold", "color": "#222", "align": "right", "baseline": "middle", "dx": -3},
   "encoding": {"y": {"field": "v", "type": "quantitative", "scale": {"domain": [0, 93.5], "nice": false}, "axis": null}, "x": {"datum": -10, "type": "quantitative", "scale": {"domain": [-10, 10], "nice": false, "zero": false}, "axis": null}, "text": {"field": "l"}}},
  {"data": {"name": "ym2"}, "mark": {"type": "rule", "x2Offset": 4, "color": "#333", "strokeWidth": 1.2, "clip": true},
   "encoding": {"y": {"field": "v", "type": "quantitative", "scale": {"domain": [0, 93.5], "nice": false}, "axis": null}, "x": {"datum": -10, "type": "quantitative", "scale": {"domain": [-10, 10], "nice": false, "zero": false}, "axis": null}, "x2": {"datum": -10}}},
  {"data": {"name": "f4"}, "mark": {"type": "line", "interpolate": "monotone", "color": "#111", "strokeWidth": 4.5},
   "encoding": {"x": {"field": "x", "type": "quantitative", "scale": {"domain": [-10, 10], "nice": false, "zero": false}, "axis": null}, "y": {"field": "y", "type": "quantitative", "scale": {"domain": [0, 93.5], "nice": false}, "axis": null}}},
  {"data": {"values": [{}]}, "mark": {"type": "rect", "fill": "white", "stroke": "#444", "strokeWidth": 1.5},
   "encoding": {"x": {"datum": -12.205, "type": "quantitative", "scale": {"domain": [-10, 10], "nice": false, "zero": false}, "axis": null}, "x2": {"datum": -10.688}, "y": {"datum": 104.47, "type": "quantitative", "scale": {"domain": [0, 93.5], "nice": false}, "axis": null}, "y2": {"datum": 98.7}}},
  {"data": {"values": [{"t": "Y"}]}, "mark": {"type": "text", "fontSize": 10.5, "color": "#222", "baseline": "middle"},
   "encoding": {"x": {"datum": -11.429, "type": "quantitative", "scale": {"domain": [-10, 10], "nice": false, "zero": false}, "axis": null}, "y": {"datum": 101.58, "type": "quantitative", "scale": {"domain": [0, 93.5], "nice": false}, "axis": null}, "text": {"field": "t"}}},
  {"data": {"values": [{}]}, "mark": {"type": "rect", "fill": "white", "stroke": "#444", "strokeWidth": 1.5},
   "encoding": {"x": {"datum": 3.063, "type": "quantitative", "scale": {"domain": [-10, 10], "nice": false, "zero": false}, "axis": null}, "x2": {"datum": 12.143}, "y": {"datum": 104.47, "type": "quantitative", "scale": {"domain": [0, 93.5], "nice": false}, "axis": null}, "y2": {"datum": 62.24}}},
  {"data": {"values": [{}]}, "mark": {"type": "rule", "color": "#444", "strokeWidth": 1.2},
   "encoding": {"x": {"datum": 3.063, "type": "quantitative", "scale": {"domain": [-10, 10], "nice": false, "zero": false}, "axis": null}, "x2": {"datum": 12.143}, "y": {"datum": 99.43, "type": "quantitative", "scale": {"domain": [0, 93.5], "nice": false}, "axis": null}}},
  {"data": {"values": [{"t": "h4"}]}, "mark": {"type": "text", "fontSize": 14, "color": "#222", "baseline": "middle"},
   "encoding": {"x": {"datum": 7.527, "type": "quantitative", "scale": {"domain": [-10, 10], "nice": false, "zero": false}, "axis": null}, "y": {"datum": 102.39, "type": "quantitative", "scale": {"domain": [0, 93.5], "nice": false}, "axis": null}, "text": {"field": "t"}}},
  {"data": {"values": [{"t": "Entries\nMean\nRMS\nχ² / ndf\nConstant\nMean\nSigma"}]}, "mark": {"type": "text", "fontSize": 5.5, "fontWeight": "bold", "color": "#222", "align": "left", "baseline": "alphabetic", "lineBreak": "\n", "lineHeight": 19.9},
   "encoding": {"x": {"datum": 3.42, "type": "quantitative", "scale": {"domain": [-10, 10], "nice": false, "zero": false}, "axis": null}, "y": {"datum": 96.54, "type": "quantitative", "scale": {"domain": [0, 93.5], "nice": false}, "axis": null}, "text": {"field": "t"}}},
  {"data": {"values": [{"t": "999\n0.06067\n0.9246\n19.57 / 28\n84.63 ± 3.37\n0.07424 ± 0.02979\n0.9237 ± 0.02132"}]}, "mark": {"type": "text", "fontSize": 5.5, "fontWeight": "bold", "color": "#222", "align": "right", "baseline": "alphabetic", "lineBreak": "\n", "lineHeight": 19.9},
   "encoding": {"x": {"datum": 11.759, "type": "quantitative", "scale": {"domain": [-10, 10], "nice": false, "zero": false}, "axis": null}, "y": {"datum": 96.54, "type": "quantitative", "scale": {"domain": [0, 93.5], "nice": false}, "axis": null}, "text": {"field": "t"}}},
  {"data": {"values": [{"t": "RMS 0.92"}]}, "mark": {"type": "text", "font": "DejaVu Sans", "fontSize": 33, "color": "black", "align": "center", "baseline": "alphabetic"},
   "encoding": {"x": {"datum": 1.429, "type": "quantitative", "scale": {"domain": [-10, 10], "nice": false, "zero": false}, "axis": null}, "y": {"datum": 108.78, "type": "quantitative", "scale": {"domain": [0, 93.5], "nice": false}, "axis": null}, "text": {"field": "t"}}}
 ]},
 {"width": 224, "height": 347, "layer": [
  {"data": {"name": "h5"}, "mark": {"type": "line", "interpolate": "step-after", "color": "#777", "strokeWidth": 2},
   "encoding": {"x": {"field": "x", "type": "quantitative", "scale": {"domain": [-10, 10], "nice": false, "zero": false}, "axis": null},
                "y": {"field": "n", "type": "quantitative", "scale": {"domain": [0, 103], "nice": false}, "axis": null}}},
  {"data": {"name": "xM"}, "mark": {"type": "rule", "y2Offset": -8, "color": "#333", "strokeWidth": 1.2},
   "encoding": {"x": {"field": "v", "type": "quantitative", "scale": {"domain": [-10, 10], "nice": false, "zero": false}, "axis": null}, "y": {"datum": 0, "type": "quantitative", "scale": {"domain": [0, 103], "nice": false}, "axis": null}, "y2": {"datum": 0}}},
  {"data": {"name": "xM"}, "mark": {"type": "text", "fontSize": 9.5, "fontWeight": "bold", "color": "#222", "baseline": "top", "dy": 7},
   "encoding": {"x": {"field": "v", "type": "quantitative", "scale": {"domain": [-10, 10], "nice": false, "zero": false}, "axis": null}, "y": {"datum": 0, "type": "quantitative", "scale": {"domain": [0, 103], "nice": false}, "axis": null}, "text": {"field": "l"}}},
  {"data": {"name": "xm"}, "mark": {"type": "rule", "y2Offset": -4, "color": "#333", "strokeWidth": 1.2},
   "encoding": {"x": {"field": "v", "type": "quantitative", "scale": {"domain": [-10, 10], "nice": false, "zero": false}, "axis": null}, "y": {"datum": 0, "type": "quantitative", "scale": {"domain": [0, 103], "nice": false}, "axis": null}, "y2": {"datum": 0}}},
  {"data": {"name": "yM20"}, "mark": {"type": "rule", "x2Offset": 8, "color": "#333", "strokeWidth": 1.2, "clip": true},
   "encoding": {"y": {"field": "v", "type": "quantitative", "scale": {"domain": [0, 103], "nice": false}, "axis": null}, "x": {"datum": -10, "type": "quantitative", "scale": {"domain": [-10, 10], "nice": false, "zero": false}, "axis": null}, "x2": {"datum": -10}}},
  {"data": {"name": "yM20"}, "mark": {"type": "text", "fontSize": 9.5, "fontWeight": "bold", "color": "#222", "align": "right", "baseline": "middle", "dx": -3},
   "encoding": {"y": {"field": "v", "type": "quantitative", "scale": {"domain": [0, 103], "nice": false}, "axis": null}, "x": {"datum": -10, "type": "quantitative", "scale": {"domain": [-10, 10], "nice": false, "zero": false}, "axis": null}, "text": {"field": "l"}}},
  {"data": {"name": "ym4"}, "mark": {"type": "rule", "x2Offset": 4, "color": "#333", "strokeWidth": 1.2, "clip": true},
   "encoding": {"y": {"field": "v", "type": "quantitative", "scale": {"domain": [0, 103], "nice": false}, "axis": null}, "x": {"datum": -10, "type": "quantitative", "scale": {"domain": [-10, 10], "nice": false, "zero": false}, "axis": null}, "x2": {"datum": -10}}},
  {"data": {"name": "f5"}, "mark": {"type": "line", "interpolate": "monotone", "color": "#111", "strokeWidth": 4.5},
   "encoding": {"x": {"field": "x", "type": "quantitative", "scale": {"domain": [-10, 10], "nice": false, "zero": false}, "axis": null}, "y": {"field": "y", "type": "quantitative", "scale": {"domain": [0, 103], "nice": false}, "axis": null}}},
  {"data": {"values": [{}]}, "mark": {"type": "rect", "fill": "white", "stroke": "#444", "strokeWidth": 1.5},
   "encoding": {"x": {"datum": -12.321, "type": "quantitative", "scale": {"domain": [-10, 10], "nice": false, "zero": false}, "axis": null}, "x2": {"datum": -11.009}, "y": {"datum": 115.67, "type": "quantitative", "scale": {"domain": [0, 103], "nice": false}, "axis": null}, "y2": {"datum": 108.55}}},
  {"data": {"values": [{"t": "Z"}]}, "mark": {"type": "text", "fontSize": 10.5, "color": "#222", "baseline": "middle"},
   "encoding": {"x": {"datum": -11.67, "type": "quantitative", "scale": {"domain": [-10, 10], "nice": false, "zero": false}, "axis": null}, "y": {"datum": 112.2, "type": "quantitative", "scale": {"domain": [0, 103], "nice": false}, "axis": null}, "text": {"field": "t"}}},
  {"data": {"values": [{}]}, "mark": {"type": "rect", "fill": "white", "stroke": "#444", "strokeWidth": 1.5},
   "encoding": {"x": {"datum": 3.009, "type": "quantitative", "scale": {"domain": [-10, 10], "nice": false, "zero": false}, "axis": null}, "x2": {"datum": 12.143}, "y": {"datum": 115.26, "type": "quantitative", "scale": {"domain": [0, 103], "nice": false}, "axis": null}, "y2": {"datum": 68.95}}},
  {"data": {"values": [{}]}, "mark": {"type": "rule", "color": "#444", "strokeWidth": 1.2},
   "encoding": {"x": {"datum": 3.009, "type": "quantitative", "scale": {"domain": [-10, 10], "nice": false, "zero": false}, "axis": null}, "x2": {"datum": 12.143}, "y": {"datum": 109.53, "type": "quantitative", "scale": {"domain": [0, 103], "nice": false}, "axis": null}}},
  {"data": {"values": [{"t": "h5"}]}, "mark": {"type": "text", "fontSize": 14, "color": "#222", "baseline": "middle"},
   "encoding": {"x": {"datum": 7.527, "type": "quantitative", "scale": {"domain": [-10, 10], "nice": false, "zero": false}, "axis": null}, "y": {"datum": 112.71, "type": "quantitative", "scale": {"domain": [0, 103], "nice": false}, "axis": null}, "text": {"field": "t"}}},
  {"data": {"values": [{"t": "Entries\nMean\nRMS\nχ² / ndf\nConstant\nMean\nSigma"}]}, "mark": {"type": "text", "fontSize": 5.5, "fontWeight": "bold", "color": "#222", "align": "left", "baseline": "alphabetic", "lineBreak": "\n", "lineHeight": 19.55},
   "encoding": {"x": {"datum": 3.661, "type": "quantitative", "scale": {"domain": [-10, 10], "nice": false, "zero": false}, "axis": null}, "y": {"datum": 105.97, "type": "quantitative", "scale": {"domain": [0, 103], "nice": false}, "axis": null}, "text": {"field": "t"}}},
  {"data": {"values": [{"t": "999\n0.07842\n0.9273\n33.78 / 28\n85.7 ± 3.4\n0.07299 ± 0.02934\n0.9163 ± 0.02216"}]}, "mark": {"type": "text", "fontSize": 5.5, "fontWeight": "bold", "color": "#222", "align": "right", "baseline": "alphabetic", "lineBreak": "\n", "lineHeight": 19.55},
   "encoding": {"x": {"datum": 11.518, "type": "quantitative", "scale": {"domain": [-10, 10], "nice": false, "zero": false}, "axis": null}, "y": {"datum": 105.97, "type": "quantitative", "scale": {"domain": [0, 103], "nice": false}, "axis": null}, "text": {"field": "t"}}},
  {"data": {"values": [{"t": "RMS 0.92"}]}, "mark": {"type": "text", "font": "DejaVu Sans", "fontSize": 33, "color": "black", "align": "center", "baseline": "alphabetic"},
   "encoding": {"x": {"datum": -2.723, "type": "quantitative", "scale": {"domain": [-10, 10], "nice": false, "zero": false}, "axis": null}, "y": {"datum": 103.8, "type": "quantitative", "scale": {"domain": [0, 103], "nice": false}, "axis": null}, "text": {"field": "t"}}}
 ]},
 {"width": 224, "height": 347, "layer": [
  {"data": {"name": "h6"}, "mark": {"type": "line", "interpolate": "step-after", "color": "#444", "strokeWidth": 1.5},
   "encoding": {"x": {"field": "x", "type": "quantitative", "scale": {"domain": [-10, 10], "nice": false, "zero": false}, "axis": null},
                "y": {"field": "n", "type": "quantitative", "scale": {"domain": [0, 304], "nice": false}, "axis": null}}},
  {"data": {"name": "xM"}, "mark": {"type": "rule", "y2Offset": -8, "color": "#333", "strokeWidth": 1.2},
   "encoding": {"x": {"field": "v", "type": "quantitative", "scale": {"domain": [-10, 10], "nice": false, "zero": false}, "axis": null}, "y": {"datum": 0, "type": "quantitative", "scale": {"domain": [0, 304], "nice": false}, "axis": null}, "y2": {"datum": 0}}},
  {"data": {"name": "xM"}, "mark": {"type": "text", "fontSize": 9.5, "fontWeight": "bold", "color": "#222", "baseline": "top", "dy": 7},
   "encoding": {"x": {"field": "v", "type": "quantitative", "scale": {"domain": [-10, 10], "nice": false, "zero": false}, "axis": null}, "y": {"datum": 0, "type": "quantitative", "scale": {"domain": [0, 304], "nice": false}, "axis": null}, "text": {"field": "l"}}},
  {"data": {"name": "xm"}, "mark": {"type": "rule", "y2Offset": -4, "color": "#333", "strokeWidth": 1.2},
   "encoding": {"x": {"field": "v", "type": "quantitative", "scale": {"domain": [-10, 10], "nice": false, "zero": false}, "axis": null}, "y": {"datum": 0, "type": "quantitative", "scale": {"domain": [0, 304], "nice": false}, "axis": null}, "y2": {"datum": 0}}},
  {"data": {"name": "yM50"}, "mark": {"type": "rule", "x2Offset": 8, "color": "#333", "strokeWidth": 1.2, "clip": true},
   "encoding": {"y": {"field": "v", "type": "quantitative", "scale": {"domain": [0, 304], "nice": false}, "axis": null}, "x": {"datum": -10, "type": "quantitative", "scale": {"domain": [-10, 10], "nice": false, "zero": false}, "axis": null}, "x2": {"datum": -10}}},
  {"data": {"name": "yM50"}, "mark": {"type": "text", "fontSize": 9.5, "fontWeight": "bold", "color": "#222", "align": "right", "baseline": "middle", "dx": -3},
   "encoding": {"y": {"field": "v", "type": "quantitative", "scale": {"domain": [0, 304], "nice": false}, "axis": null}, "x": {"datum": -10, "type": "quantitative", "scale": {"domain": [-10, 10], "nice": false, "zero": false}, "axis": null}, "text": {"field": "l"}}},
  {"data": {"name": "ym10"}, "mark": {"type": "rule", "x2Offset": 4, "color": "#333", "strokeWidth": 1.2, "clip": true},
   "encoding": {"y": {"field": "v", "type": "quantitative", "scale": {"domain": [0, 304], "nice": false}, "axis": null}, "x": {"datum": -10, "type": "quantitative", "scale": {"domain": [-10, 10], "nice": false, "zero": false}, "axis": null}, "x2": {"datum": -10}}},
  {"data": {"values": [{}]}, "mark": {"type": "rect", "fill": "white", "stroke": "#444", "strokeWidth": 1.5},
   "encoding": {"x": {"datum": -12.321, "type": "quantitative", "scale": {"domain": [-10, 10], "nice": false, "zero": false}, "axis": null}, "x2": {"datum": -10.116}, "y": {"datum": 341.41, "type": "quantitative", "scale": {"domain": [0, 304], "nice": false}, "axis": null}, "y2": {"datum": 320.38}}},
  {"data": {"values": [{"t": "Px"}]}, "mark": {"type": "text", "fontSize": 10.5, "color": "#222", "baseline": "middle"},
   "encoding": {"x": {"datum": -11.25, "type": "quantitative", "scale": {"domain": [-10, 10], "nice": false, "zero": false}, "axis": null}, "y": {"datum": 331.16, "type": "quantitative", "scale": {"domain": [0, 304], "nice": false}, "axis": null}, "text": {"field": "t"}}},
  {"data": {"values": [{}]}, "mark": {"type": "rect", "fill": "white", "stroke": "#444", "strokeWidth": 1.5},
   "encoding": {"x": {"datum": 7.027, "type": "quantitative", "scale": {"domain": [-10, 10], "nice": false, "zero": false}, "axis": null}, "x2": {"datum": 12.08}, "y": {"datum": 340.18, "type": "quantitative", "scale": {"domain": [0, 304], "nice": false}, "axis": null}, "y2": {"datum": 248.19}}},
  {"data": {"values": [{}]}, "mark": {"type": "rule", "color": "#444", "strokeWidth": 1.2},
   "encoding": {"x": {"datum": 7.027, "type": "quantitative", "scale": {"domain": [-10, 10], "nice": false, "zero": false}, "axis": null}, "x2": {"datum": 12.08}, "y": {"datum": 318.02, "type": "quantitative", "scale": {"domain": [0, 304], "nice": false}, "axis": null}}},
  {"data": {"values": [{"t": "h6"}]}, "mark": {"type": "text", "fontSize": 15, "fontWeight": "bold", "color": "#222", "baseline": "middle"},
   "encoding": {"x": {"datum": 9.527, "type": "quantitative", "scale": {"domain": [-10, 10], "nice": false, "zero": false}, "axis": null}, "y": {"datum": 329.14, "type": "quantitative", "scale": {"domain": [0, 304], "nice": false}, "axis": null}, "text": {"field": "t"}}},
  {"data": {"values": [{"t": "Entries\nMean\nRMS"}]}, "mark": {"type": "text", "fontSize": 5.5, "fontWeight": "bold", "color": "#222", "align": "left", "baseline": "alphabetic", "lineBreak": "\n", "lineHeight": 26.35},
   "encoding": {"x": {"datum": 7.295, "type": "quantitative", "scale": {"domain": [-10, 10], "nice": false, "zero": false}, "axis": null}, "y": {"datum": 304.88, "type": "quantitative", "scale": {"domain": [0, 304], "nice": false}, "axis": null}, "text": {"field": "t"}}},
  {"data": {"values": [{"t": "999\n-0.07143\n0.5278"}]}, "mark": {"type": "text", "fontSize": 5.5, "fontWeight": "bold", "color": "#222", "align": "right", "baseline": "alphabetic", "lineBreak": "\n", "lineHeight": 26.35},
   "encoding": {"x": {"datum": 11.848, "type": "quantitative", "scale": {"domain": [-10, 10], "nice": false, "zero": false}, "axis": null}, "y": {"datum": 304.88, "type": "quantitative", "scale": {"domain": [0, 304], "nice": false}, "axis": null}, "text": {"field": "t"}}}
 ]},
 {"width": 224, "height": 347, "layer": [
  {"data": {"name": "h7"}, "mark": {"type": "line", "interpolate": "step-after", "color": "#777", "strokeWidth": 2},
   "encoding": {"x": {"field": "x", "type": "quantitative", "scale": {"domain": [-10, 10], "nice": false, "zero": false}, "axis": null},
                "y": {"field": "n", "type": "quantitative", "scale": {"domain": [0, 105], "nice": false}, "axis": null}}},
  {"data": {"name": "xM"}, "mark": {"type": "rule", "y2Offset": -8, "color": "#333", "strokeWidth": 1.2},
   "encoding": {"x": {"field": "v", "type": "quantitative", "scale": {"domain": [-10, 10], "nice": false, "zero": false}, "axis": null}, "y": {"datum": 0, "type": "quantitative", "scale": {"domain": [0, 105], "nice": false}, "axis": null}, "y2": {"datum": 0}}},
  {"data": {"name": "xM"}, "mark": {"type": "text", "fontSize": 9.5, "fontWeight": "bold", "color": "#222", "baseline": "top", "dy": 7},
   "encoding": {"x": {"field": "v", "type": "quantitative", "scale": {"domain": [-10, 10], "nice": false, "zero": false}, "axis": null}, "y": {"datum": 0, "type": "quantitative", "scale": {"domain": [0, 105], "nice": false}, "axis": null}, "text": {"field": "l"}}},
  {"data": {"name": "xm"}, "mark": {"type": "rule", "y2Offset": -4, "color": "#333", "strokeWidth": 1.2},
   "encoding": {"x": {"field": "v", "type": "quantitative", "scale": {"domain": [-10, 10], "nice": false, "zero": false}, "axis": null}, "y": {"datum": 0, "type": "quantitative", "scale": {"domain": [0, 105], "nice": false}, "axis": null}, "y2": {"datum": 0}}},
  {"data": {"name": "yM20"}, "mark": {"type": "rule", "x2Offset": 8, "color": "#333", "strokeWidth": 1.2, "clip": true},
   "encoding": {"y": {"field": "v", "type": "quantitative", "scale": {"domain": [0, 105], "nice": false}, "axis": null}, "x": {"datum": -10, "type": "quantitative", "scale": {"domain": [-10, 10], "nice": false, "zero": false}, "axis": null}, "x2": {"datum": -10}}},
  {"data": {"name": "yM20"}, "mark": {"type": "text", "fontSize": 9.5, "fontWeight": "bold", "color": "#222", "align": "right", "baseline": "middle", "dx": -3},
   "encoding": {"y": {"field": "v", "type": "quantitative", "scale": {"domain": [0, 105], "nice": false}, "axis": null}, "x": {"datum": -10, "type": "quantitative", "scale": {"domain": [-10, 10], "nice": false, "zero": false}, "axis": null}, "text": {"field": "l"}}},
  {"data": {"name": "ym4"}, "mark": {"type": "rule", "x2Offset": 4, "color": "#333", "strokeWidth": 1.2, "clip": true},
   "encoding": {"y": {"field": "v", "type": "quantitative", "scale": {"domain": [0, 105], "nice": false}, "axis": null}, "x": {"datum": -10, "type": "quantitative", "scale": {"domain": [-10, 10], "nice": false, "zero": false}, "axis": null}, "x2": {"datum": -10}}},
  {"data": {"name": "f7"}, "mark": {"type": "line", "interpolate": "monotone", "color": "#111", "strokeWidth": 4.5},
   "encoding": {"x": {"field": "x", "type": "quantitative", "scale": {"domain": [-10, 10], "nice": false, "zero": false}, "axis": null}, "y": {"field": "y", "type": "quantitative", "scale": {"domain": [0, 105], "nice": false}, "axis": null}}},
  {"data": {"values": [{}]}, "mark": {"type": "rect", "fill": "white", "stroke": "#444", "strokeWidth": 1.5},
   "encoding": {"x": {"datum": -12.321, "type": "quantitative", "scale": {"domain": [-10, 10], "nice": false, "zero": false}, "axis": null}, "x2": {"datum": -10.116}, "y": {"datum": 117.92, "type": "quantitative", "scale": {"domain": [0, 105], "nice": false}, "axis": null}, "y2": {"datum": 110.66}}},
  {"data": {"values": [{"t": "Py"}]}, "mark": {"type": "text", "fontSize": 10.5, "color": "#222", "baseline": "middle"},
   "encoding": {"x": {"datum": -11.25, "type": "quantitative", "scale": {"domain": [-10, 10], "nice": false, "zero": false}, "axis": null}, "y": {"datum": 114.38, "type": "quantitative", "scale": {"domain": [0, 105], "nice": false}, "axis": null}, "text": {"field": "t"}}},
  {"data": {"values": [{}]}, "mark": {"type": "rect", "fill": "white", "stroke": "#444", "strokeWidth": 1.5},
   "encoding": {"x": {"datum": 3.009, "type": "quantitative", "scale": {"domain": [-10, 10], "nice": false, "zero": false}, "axis": null}, "x2": {"datum": 12.08}, "y": {"datum": 117.5, "type": "quantitative", "scale": {"domain": [0, 105], "nice": false}, "axis": null}, "y2": {"datum": 70.29}}},
  {"data": {"values": [{}]}, "mark": {"type": "rule", "color": "#444", "strokeWidth": 1.2},
   "encoding": {"x": {"datum": 3.009, "type": "quantitative", "scale": {"domain": [-10, 10], "nice": false, "zero": false}, "axis": null}, "x2": {"datum": 12.08}, "y": {"datum": 111.66, "type": "quantitative", "scale": {"domain": [0, 105], "nice": false}, "axis": null}}},
  {"data": {"values": [{"t": "h7"}]}, "mark": {"type": "text", "fontSize": 13, "fontWeight": "bold", "color": "#222", "baseline": "middle"},
   "encoding": {"x": {"datum": 7.384, "type": "quantitative", "scale": {"domain": [-10, 10], "nice": false, "zero": false}, "axis": null}, "y": {"datum": 114.68, "type": "quantitative", "scale": {"domain": [0, 105], "nice": false}, "axis": null}, "text": {"field": "t"}}},
  {"data": {"values": [{"t": "Entries\nMean\nRMS\nχ² / ndf\nConstant\nMean\nSigma"}]}, "mark": {"type": "text", "fontSize": 5.5, "fontWeight": "bold", "color": "#222", "align": "left", "baseline": "alphabetic", "lineBreak": "\n", "lineHeight": 19.38},
   "encoding": {"x": {"datum": 3.42, "type": "quantitative", "scale": {"domain": [-10, 10], "nice": false, "zero": false}, "axis": null}, "y": {"datum": 107.72, "type": "quantitative", "scale": {"domain": [0, 105], "nice": false}, "axis": null}, "text": {"field": "t"}}},
  {"data": {"values": [{"t": "999\n-0.01344\n0.9461\n30.81 / 27\n83.37 ± 3.31\n-0.02092 ± 0.03071\n0.9344 ± 0.0231"}]}, "mark": {"type": "text", "fontSize": 5.5, "fontWeight": "bold", "color": "#222", "align": "right", "baseline": "alphabetic", "lineBreak": "\n", "lineHeight": 19.38},
   "encoding": {"x": {"datum": 11.607, "type": "quantitative", "scale": {"domain": [-10, 10], "nice": false, "zero": false}, "axis": null}, "y": {"datum": 107.72, "type": "quantitative", "scale": {"domain": [0, 105], "nice": false}, "axis": null}, "text": {"field": "t"}}}
 ]},
 {"width": 224, "height": 347, "layer": [
  {"data": {"name": "h8"}, "mark": {"type": "line", "interpolate": "step-after", "color": "#777", "strokeWidth": 2},
   "encoding": {"x": {"field": "x", "type": "quantitative", "scale": {"domain": [-10, 10], "nice": false, "zero": false}, "axis": null},
                "y": {"field": "n", "type": "quantitative", "scale": {"domain": [0, 106], "nice": false}, "axis": null}}},
  {"data": {"name": "xM"}, "mark": {"type": "rule", "y2Offset": -8, "color": "#333", "strokeWidth": 1.2},
   "encoding": {"x": {"field": "v", "type": "quantitative", "scale": {"domain": [-10, 10], "nice": false, "zero": false}, "axis": null}, "y": {"datum": 0, "type": "quantitative", "scale": {"domain": [0, 106], "nice": false}, "axis": null}, "y2": {"datum": 0}}},
  {"data": {"name": "xM"}, "mark": {"type": "text", "fontSize": 9.5, "fontWeight": "bold", "color": "#222", "baseline": "top", "dy": 7},
   "encoding": {"x": {"field": "v", "type": "quantitative", "scale": {"domain": [-10, 10], "nice": false, "zero": false}, "axis": null}, "y": {"datum": 0, "type": "quantitative", "scale": {"domain": [0, 106], "nice": false}, "axis": null}, "text": {"field": "l"}}},
  {"data": {"name": "xm"}, "mark": {"type": "rule", "y2Offset": -4, "color": "#333", "strokeWidth": 1.2},
   "encoding": {"x": {"field": "v", "type": "quantitative", "scale": {"domain": [-10, 10], "nice": false, "zero": false}, "axis": null}, "y": {"datum": 0, "type": "quantitative", "scale": {"domain": [0, 106], "nice": false}, "axis": null}, "y2": {"datum": 0}}},
  {"data": {"name": "yM20"}, "mark": {"type": "rule", "x2Offset": 8, "color": "#333", "strokeWidth": 1.2, "clip": true},
   "encoding": {"y": {"field": "v", "type": "quantitative", "scale": {"domain": [0, 106], "nice": false}, "axis": null}, "x": {"datum": -10, "type": "quantitative", "scale": {"domain": [-10, 10], "nice": false, "zero": false}, "axis": null}, "x2": {"datum": -10}}},
  {"data": {"name": "yM20"}, "mark": {"type": "text", "fontSize": 9.5, "fontWeight": "bold", "color": "#222", "align": "right", "baseline": "middle", "dx": -3},
   "encoding": {"y": {"field": "v", "type": "quantitative", "scale": {"domain": [0, 106], "nice": false}, "axis": null}, "x": {"datum": -10, "type": "quantitative", "scale": {"domain": [-10, 10], "nice": false, "zero": false}, "axis": null}, "text": {"field": "l"}}},
  {"data": {"name": "ym4"}, "mark": {"type": "rule", "x2Offset": 4, "color": "#333", "strokeWidth": 1.2, "clip": true},
   "encoding": {"y": {"field": "v", "type": "quantitative", "scale": {"domain": [0, 106], "nice": false}, "axis": null}, "x": {"datum": -10, "type": "quantitative", "scale": {"domain": [-10, 10], "nice": false, "zero": false}, "axis": null}, "x2": {"datum": -10}}},
  {"data": {"name": "f5"}, "mark": {"type": "line", "interpolate": "monotone", "color": "#111", "strokeWidth": 4.5},
   "encoding": {"x": {"field": "x", "type": "quantitative", "scale": {"domain": [-10, 10], "nice": false, "zero": false}, "axis": null}, "y": {"field": "y", "type": "quantitative", "scale": {"domain": [0, 106], "nice": false}, "axis": null}}},
  {"data": {"values": [{}]}, "mark": {"type": "rect", "fill": "white", "stroke": "#444", "strokeWidth": 1.5},
   "encoding": {"x": {"datum": -12.259, "type": "quantitative", "scale": {"domain": [-10, 10], "nice": false, "zero": false}, "axis": null}, "x2": {"datum": -10.268}, "y": {"datum": 119.05, "type": "quantitative", "scale": {"domain": [0, 106], "nice": false}, "axis": null}, "y2": {"datum": 111.71}}},
  {"data": {"values": [{"t": "Pz"}]}, "mark": {"type": "text", "fontSize": 10.5, "color": "#222", "baseline": "middle"},
   "encoding": {"x": {"datum": -11.25, "type": "quantitative", "scale": {"domain": [-10, 10], "nice": false, "zero": false}, "axis": null}, "y": {"datum": 115.47, "type": "quantitative", "scale": {"domain": [0, 106], "nice": false}, "axis": null}, "text": {"field": "t"}}},
  {"data": {"values": [{}]}, "mark": {"type": "rect", "fill": "white", "stroke": "#444", "strokeWidth": 1.5},
   "encoding": {"x": {"datum": 2.973, "type": "quantitative", "scale": {"domain": [-10, 10], "nice": false, "zero": false}, "axis": null}, "x2": {"datum": 12.054}, "y": {"datum": 118.62, "type": "quantitative", "scale": {"domain": [0, 106], "nice": false}, "axis": null}, "y2": {"datum": 70.96}}},
  {"data": {"values": [{}]}, "mark": {"type": "rule", "color": "#444", "strokeWidth": 1.2},
   "encoding": {"x": {"datum": 2.973, "type": "quantitative", "scale": {"domain": [-10, 10], "nice": false, "zero": false}, "axis": null}, "x2": {"datum": 12.054}, "y": {"datum": 112.72, "type": "quantitative", "scale": {"domain": [0, 106], "nice": false}, "axis": null}}},
  {"data": {"values": [{"t": "h8"}]}, "mark": {"type": "text", "fontSize": 14, "color": "#222", "baseline": "middle"},
   "encoding": {"x": {"datum": 7.527, "type": "quantitative", "scale": {"domain": [-10, 10], "nice": false, "zero": false}, "axis": null}, "y": {"datum": 115.78, "type": "quantitative", "scale": {"domain": [0, 106], "nice": false}, "axis": null}, "text": {"field": "t"}}},
  {"data": {"values": [{"t": "Entries\nMean\nRMS\nχ² / ndf\nConstant\nMean\nSigma"}]}, "mark": {"type": "text", "fontSize": 5.5, "fontWeight": "bold", "color": "#222", "align": "left", "baseline": "alphabetic", "lineBreak": "\n", "lineHeight": 19.67},
   "encoding": {"x": {"datum": 3.366, "type": "quantitative", "scale": {"domain": [-10, 10], "nice": false, "zero": false}, "axis": null}, "y": {"datum": 109.27, "type": "quantitative", "scale": {"domain": [0, 106], "nice": false}, "axis": null}, "text": {"field": "t"}}},
  {"data": {"values": [{"t": "999\n0.05531\n0.9393\n26.72 / 28\n85.27 ± 3.37\n0.05366 ± 0.02991\n0.9206 ± 0.02157"}]}, "mark": {"type": "text", "fontSize": 5.5, "fontWeight": "bold", "color": "#222", "align": "right", "baseline": "alphabetic", "lineBreak": "\n", "lineHeight": 19.67},
   "encoding": {"x": {"datum": 11.545, "type": "quantitative", "scale": {"domain": [-10, 10], "nice": false, "zero": false}, "axis": null}, "y": {"datum": 109.27, "type": "quantitative", "scale": {"domain": [0, 106], "nice": false}, "axis": null}, "text": {"field": "t"}}}
 ]}
]
}
